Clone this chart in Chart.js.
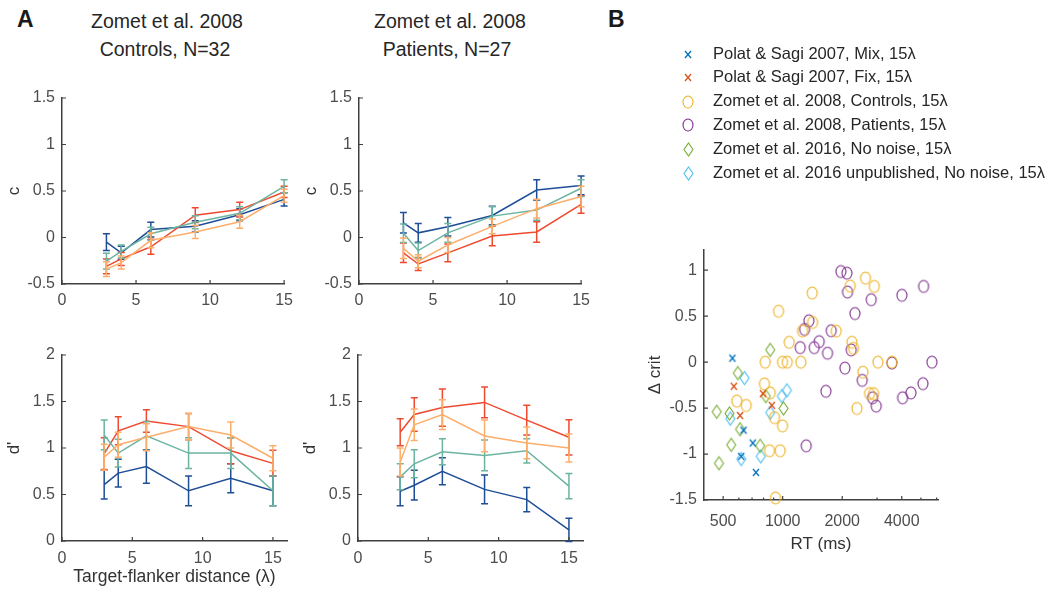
<!DOCTYPE html>
<html><head><meta charset="utf-8">
<script src="https://cdn.jsdelivr.net/npm/chart.js@4.4.0/dist/chart.umd.min.js"></script>
<style>
body{margin:0;background:#fff;width:1053px;height:589px;overflow:hidden;position:relative;font-family:"Liberation Sans",Arial,Helvetica,sans-serif;}
canvas{position:absolute;}
.t{position:absolute;color:#262626;font-size:19.5px;line-height:24px;white-space:nowrap;transform:translateX(-50%);}
.lab{position:absolute;font-weight:bold;font-size:23px;line-height:28px;color:#1a1a1a;}
</style></head><body>
<div class="lab" style="left:17px;top:5px">A</div>
<div class="lab" style="left:608px;top:5px">B</div>
<div class="t" style="left:167px;top:9px">Zomet et al. 2008</div>
<div class="t" style="left:165px;top:37px">Controls, N=32</div>
<div class="t" style="left:450px;top:9px">Zomet et al. 2008</div>
<div class="t" style="left:447px;top:37px">Patients, N=27</div>
<canvas id="tl" width="300" height="260" style="left:0;top:60px"></canvas>
<canvas id="tr" width="300" height="260" style="left:297px;top:60px"></canvas>
<canvas id="bl" width="300" height="269" style="left:0;top:320px"></canvas>
<canvas id="br" width="300" height="269" style="left:296px;top:320px"></canvas>
<canvas id="sc" width="453" height="589" style="left:600px;top:0"></canvas>
<script>
// ---------------- DATA ----------------
const distances = [3, 4, 6, 9, 12, 15];
const distanceTicks = [0, 5, 10, 15];
const cTicks = [-0.5, 0, 0.5, 1, 1.5];
const dTicks = [0, 0.5, 1, 1.5, 2];

// Controls, criterion c
const ctrlC_orange = [-0.34, -0.27, -0.03, 0.06, 0.17, 0.45];
const ctrlC_orangeErr = [0.08, 0.07, 0.08, 0.07, 0.07, 0.07];
const ctrlC_teal = [-0.255, -0.15, 0.04, 0.165, 0.26, 0.55];
const ctrlC_tealErr = [0.085, 0.07, 0.07, 0.07, 0.07, 0.07];
const ctrlC_red = [-0.31, -0.23, -0.10, 0.24, 0.30, 0.49];
const ctrlC_redErr = [0.08, 0.07, 0.08, 0.08, 0.08, 0.06];
const ctrlC_blue = [-0.05, -0.165, 0.085, 0.12, 0.245, 0.41];
const ctrlC_blueErr = [0.09, 0.07, 0.08, 0.06, 0.065, 0.07];

// Patients, criterion c
const patC_orange = [-0.115, -0.255, -0.08, 0.12, 0.31, 0.44];
const patC_orangeErr = [0.11, 0.07, 0.08, 0.08, 0.10, 0.11];
const patC_teal = [0.045, -0.14, 0.05, 0.23, 0.295, 0.53];
const patC_tealErr = [0.10, 0.08, 0.10, 0.10, 0.11, 0.09];
const patC_red = [-0.165, -0.285, -0.165, 0.015, 0.06, 0.355];
const patC_redErr = [0.105, 0.07, 0.095, 0.105, 0.11, 0.095];
const patC_blue = [0.158, 0.05, 0.115, 0.237, 0.51, 0.56];
const patC_blueErr = [0.11, 0.10, 0.10, 0.10, 0.11, 0.10];

// Controls, d'
const ctrlD_orange = [0.90, 1.035, 1.115, 1.23, 1.14, 0.89];
const ctrlD_orangeErr = [0.14, 0.135, 0.145, 0.14, 0.14, 0.135];
const ctrlD_teal = [1.14, 0.945, 1.13, 0.945, 0.945, 0.54];
const ctrlD_tealErr = [0.16, 0.15, 0.155, 0.165, 0.165, 0.16];
const ctrlD_red = [0.94, 1.185, 1.29, 1.23, 0.97, 0.835];
const ctrlD_redErr = [0.17, 0.15, 0.12, 0.14, 0.14, 0.14];
const ctrlD_blue = [0.607, 0.73, 0.80, 0.54, 0.675, 0.54];
const ctrlD_blueErr = [0.155, 0.15, 0.18, 0.16, 0.155, 0.16];

// Patients, d'
const patD_orange = [0.85, 1.25, 1.36, 1.13, 1.055, 1.0];
const patD_orangeErr = [0.15, 0.17, 0.16, 0.17, 0.17, 0.15];
const patD_teal = [0.69, 0.83, 0.96, 0.92, 0.97, 0.59];
const patD_tealErr = [0.14, 0.15, 0.14, 0.165, 0.13, 0.135];
const patD_red = [1.17, 1.36, 1.435, 1.49, 1.30, 1.115];
const patD_redErr = [0.145, 0.18, 0.20, 0.165, 0.16, 0.19];
const patD_blue = [0.535, 0.60, 0.75, 0.555, 0.445, 0.12];
const patD_blueErr = [0.155, 0.16, 0.145, 0.155, 0.13, 0.125];

// Panel B: RT (ms) vs delta criterion
const rtTicks = [500, 1000, 2000, 4000];
const rtMinorTicks = [600, 700, 800, 900, 3000, 5000, 6000];
const critTicks = [-1.5, -1, -0.5, 0, 0.5, 1];

const mixRT   = [557, 634, 617, 706, 732];
const mixCrit = [0.043, -0.74, -1.025, -0.88, -1.2];
const fixRT   = [566, 609, 794, 881];
const fixCrit = [-0.263, -0.58, -0.342, -0.47];
const ctrlRT   = [586, 654, 816, 809, 865, 909, 858, 971, 998, 920, 953, 998, 1054, 1078, 1235, 1260, 1416, 1410, 1865, 2195, 2238, 2282, 2372, 2544, 2624, 2904, 2749, 2882, 3030, 3567];
const ctrlCrit = [-0.424, -0.471, 0, -0.237, -0.335, -0.604, -0.964, -0.964, -0.694, -1.478, 0.554, 0, 0, 0.216, 0, 0.338, 0.432, 0.752, 0.338, 0.827, 0.216, 0.15, -0.504, -0.11, 0.914, 0.824, -0.342, -0.342, 0, 0];
const patRT   = [1315, 1226, 1290, 1357, 1443, 1530, 1686, 1654, 1760, 1969, 2112, 2128, 2063, 2221, 2318, 2525, 2803, 2848, 2971, 3567, 4008, 4040, 4450, 5119, 5158, 5684];
const patCrit = [-0.91, 0.158, 0.356, 0.45, 0.158, 0.223, 0.097, -0.317, 0.342, 0.986, 0.968, 0.763, -0.065, 0.133, 0.529, -0.198, 0.68, -0.388, -0.478, -0.01, 0.727, -0.388, -0.335, -0.234, 0.824, 0];
const noiseRT   = [464, 476, 538, 549, 593, 609, 769, 822, 865, 1010];
const noiseCrit = [-0.54, -1.1, -0.558, -0.9, -0.119, -0.73, -0.91, -0.37, 0.133, -0.504];
const unpubRT   = [543, 617, 641, 775, 865, 990, 1050];
const unpubCrit = [-0.615, -1.054, -0.173, -1.025, -0.55, -0.37, -0.306];

// ---------------- STYLE ----------------
const FONT = "'Liberation Sans', Arial, Helvetica, sans-serif";
Chart.defaults.font.family = FONT;
const AXIS = '#404040', TICK = '#4d4d4d', LABEL = '#333333';
const COL = {orange:'#FDAE6B', teal:'#6BB4A1', red:'#EE4A2F', blue:'#1F4E96'};

const errorBars = {
  id: 'errorBars',
  afterDatasetDraw(chart, args) {
    const ds = chart.data.datasets[args.index];
    if (!ds.errors) return;
    const xs = chart.scales.x, ys = chart.scales.y, ctx = chart.ctx;
    ctx.save();
    ctx.strokeStyle = ds.borderColor; ctx.lineWidth = 1.5;
    ctx.beginPath();
    ds.data.forEach((p, i) => {
      const e = ds.errors[i];
      const px = xs.getPixelForValue(p.x);
      const y1 = ys.getPixelForValue(p.y - e), y2 = ys.getPixelForValue(p.y + e);
      ctx.moveTo(px, y1); ctx.lineTo(px, y2);
      ctx.moveTo(px - 3.5, y1); ctx.lineTo(px + 3.5, y1);
      ctx.moveTo(px - 3.5, y2); ctx.lineTo(px + 3.5, y2);
    });
    ctx.stroke();
    ctx.restore();
  }
};

const inTicks = {
  id: 'inTicks',
  afterDraw(chart, args, opts) {
    const ctx = chart.ctx, a = chart.chartArea, xs = chart.scales.x, ys = chart.scales.y;
    ctx.save(); ctx.strokeStyle = AXIS; ctx.lineWidth = 1.2;
    ctx.beginPath();
    xs.ticks.forEach(t => { const px = xs.getPixelForValue(t.value); ctx.moveTo(px, a.bottom); ctx.lineTo(px, a.bottom - 4); });
    (opts.minorX || []).forEach(v => { const px = xs.getPixelForValue(v); ctx.moveTo(px, a.bottom); ctx.lineTo(px, a.bottom - 2.5); });
    ys.ticks.forEach(t => { const py = ys.getPixelForValue(t.value); ctx.moveTo(a.left, py); ctx.lineTo(a.left + 4, py); });
    ctx.stroke(); ctx.restore();
  }
};

function linePanel(id, series, cfg) {
  const datasets = series.map(s => ({
    label: s.label,
    data: distances.map((d, i) => ({x: d, y: s.values[i]})),
    errors: s.errors,
    borderColor: s.color, backgroundColor: s.color,
    borderWidth: 1.5, pointRadius: 0, tension: 0, clip: false
  }));
  return new Chart(document.getElementById(id), {
    type: 'line',
    data: {datasets},
    options: {
      responsive: false, animation: false, events: [],
      layout: {padding: cfg.padding},
      plugins: {legend: {display: false}, tooltip: {enabled: false}, inTicks: {}},
      scales: {
        x: {
          type: 'linear', min: 0, max: cfg.xMax,
          afterBuildTicks: s => { s.ticks = distanceTicks.map(v => ({value: v})); },
          afterFit: s => { s.height = cfg.xHeight; },
          grid: {display: false, drawTicks: false},
          border: {display: true, color: AXIS, width: 1.5},
          ticks: {padding: cfg.xPad, color: TICK, font: {size: 16}, maxRotation: 0, autoSkip: false, callback: v => String(v)},
          title: {display: !!cfg.xTitle, text: cfg.xTitle || '', color: LABEL, font: {size: 17.5}, padding: {top: 0, bottom: 1}}
        },
        y: {
          min: cfg.yMin, max: cfg.yMax,
          afterBuildTicks: s => { s.ticks = cfg.yTicks.map(v => ({value: v})); },
          afterFit: s => { s.width = 62; },
          grid: {display: false, drawTicks: false},
          border: {display: true, color: AXIS, width: 1.5},
          ticks: {padding: 7, color: TICK, font: {size: 16}, autoSkip: false, callback: v => String(v)},
          title: {display: true, text: cfg.yTitle, color: LABEL, font: {size: 17}, padding: {top: 4, bottom: 0}}
        }
      }
    },
    plugins: [errorBars, inTicks]
  });
}

function mk(o, oe, t, te, r, re, b, be) {
  return [
    {label: 'Orange series', values: o, errors: oe, color: COL.orange},
    {label: 'Teal series', values: t, errors: te, color: COL.teal},
    {label: 'Red series', values: r, errors: re, color: COL.red},
    {label: 'Blue series', values: b, errors: be, color: COL.blue}
  ];
}

linePanel('tl', mk(ctrlC_orange, ctrlC_orangeErr, ctrlC_teal, ctrlC_tealErr, ctrlC_red, ctrlC_redErr, ctrlC_blue, ctrlC_blueErr),
  {xMax: 15, yMin: -0.5, yMax: 1.5, yTicks: cTicks, yTitle: 'c', xHeight: 36, xPad: 7, padding: {left: 0, right: 14, top: 38, bottom: 0}});
linePanel('tr', mk(patC_orange, patC_orangeErr, patC_teal, patC_tealErr, patC_red, patC_redErr, patC_blue, patC_blueErr),
  {xMax: 15, yMin: -0.5, yMax: 1.5, yTicks: cTicks, yTitle: 'c', xHeight: 36, xPad: 7, padding: {left: 0, right: 14, top: 38, bottom: 0}});
linePanel('bl', mk(ctrlD_orange, ctrlD_orangeErr, ctrlD_teal, ctrlD_tealErr, ctrlD_red, ctrlD_redErr, ctrlD_blue, ctrlD_blueErr),
  {xMax: 16, yMin: 0, yMax: 2, yTicks: dTicks, yTitle: "d'", xTitle: 'Target-flanker distance (λ)', xHeight: 48, xPad: 8, padding: {left: 0, right: 13, top: 35, bottom: 0}});
linePanel('br', mk(patD_orange, patD_orangeErr, patD_teal, patD_tealErr, patD_red, patD_redErr, patD_blue, patD_blueErr),
  {xMax: 16, yMin: 0, yMax: 2, yTicks: dTicks, yTitle: "d'", xHeight: 48, xPad: 8, padding: {left: 0, right: 13, top: 35, bottom: 0}});

// ---------------- PANEL B ----------------
function makeMarker(style, color, w, h, lw) {
  const pad = 2;
  const c = document.createElement('canvas');
  c.width = Math.ceil(w + 2 * pad); c.height = Math.ceil(h + 2 * pad);
  const ctx = c.getContext('2d');
  ctx.strokeStyle = color; ctx.lineWidth = lw;
  const cx = c.width / 2, cy = c.height / 2;
  ctx.beginPath();
  if (style === 'circle') {
    ctx.ellipse(cx, cy, w / 2, h / 2, 0, 0, Math.PI * 2);
  } else if (style === 'cross') {
    ctx.moveTo(cx - w / 2, cy - h / 2); ctx.lineTo(cx + w / 2, cy + h / 2);
    ctx.moveTo(cx + w / 2, cy - h / 2); ctx.lineTo(cx - w / 2, cy + h / 2);
  } else {
    ctx.moveTo(cx, cy - h / 2); ctx.lineTo(cx + w / 2, cy); ctx.lineTo(cx, cy + h / 2); ctx.lineTo(cx - w / 2, cy); ctx.closePath();
  }
  ctx.stroke();
  return c;
}

const scatterSeries = [
  {label: 'Polat & Sagi 2007, Mix, 15λ', rt: mixRT, crit: mixCrit, color: '#0072BD', shape: 'cross', w: 6, h: 7},
  {label: 'Polat & Sagi 2007, Fix, 15λ', rt: fixRT, crit: fixCrit, color: '#D95319', shape: 'cross', w: 6, h: 7},
  {label: 'Zomet et al. 2008, Controls, 15λ', rt: ctrlRT, crit: ctrlCrit, color: '#EDB120', shape: 'circle', w: 10, h: 12},
  {label: 'Zomet et al. 2008, Patients, 15λ', rt: patRT, crit: patCrit, color: '#7E2F8E', shape: 'circle', w: 10, h: 12},
  {label: 'Zomet et al. 2016, No noise, 15λ', rt: noiseRT, crit: noiseCrit, color: '#77AC30', shape: 'diamond', w: 9, h: 13},
  {label: 'Zomet et al. 2016 unpublished, No noise, 15λ', rt: unpubRT, crit: unpubCrit, color: '#4DBEEE', shape: 'diamond', w: 9, h: 13}
];

const sideLegend = {
  id: 'sideLegend',
  afterDraw(chart, args, opts) {
    const ctx = chart.ctx;
    chart.data.datasets.forEach((ds, i) => {
      const y = opts.y0 + i * opts.dy;
      const img = ds.pointStyle;
      ctx.drawImage(img, Math.round(opts.mx - img.width / 2), Math.round(y - img.height / 2));
      ctx.save();
      ctx.fillStyle = '#262626';
      ctx.font = '16.5px ' + FONT;
      ctx.textBaseline = 'middle'; ctx.textAlign = 'left';
      ctx.fillText(ds.label, opts.tx, y);
      ctx.restore();
    });
  }
};

new Chart(document.getElementById('sc'), {
  type: 'scatter',
  data: {datasets: scatterSeries.map(s => ({
    label: s.label,
    data: s.rt.map((v, i) => ({x: v, y: s.crit[i]})),
    pointStyle: makeMarker(s.shape, s.color, s.w, s.h, s.shape === 'cross' ? 1.3 : 1.1),
    pointRadius: 5, borderColor: s.color, backgroundColor: 'rgba(0,0,0,0)', clip: false
  }))},
  options: {
    responsive: false, animation: false, events: [],
    layout: {padding: {left: 41, right: 115, top: 250, bottom: 30}},
    plugins: {legend: {display: false}, tooltip: {enabled: false},
      inTicks: {minorX: rtMinorTicks},
      sideLegend: {mx: 88, tx: 113, y0: 54, dy: 23.8}},
    scales: {
      x: {
        type: 'logarithmic', min: 400, max: 6100,
        afterBuildTicks: s => { s.ticks = rtTicks.map(v => ({value: v})); },
        afterFit: s => { s.height = 59; },
        grid: {display: false, drawTicks: false},
        border: {display: true, color: AXIS, width: 1.5},
        ticks: {padding: 12, color: TICK, font: {size: 16}, maxRotation: 0, autoSkip: false, callback: v => String(v)},
        title: {display: true, text: 'RT (ms)', color: LABEL, font: {size: 17}, padding: {top: 0, bottom: 4}}
      },
      y: {
        min: -1.5, max: 1.22,
        afterBuildTicks: s => { s.ticks = critTicks.map(v => ({value: v})); },
        afterFit: s => { s.width = 63; },
        grid: {display: false, drawTicks: false},
        border: {display: true, color: AXIS, width: 1.5},
        ticks: {padding: 7, color: TICK, font: {size: 16}, autoSkip: false, callback: v => String(v)},
        title: {display: true, text: 'Δ crit', color: LABEL, font: {size: 17}, padding: {top: 4, bottom: 0}}
      }
    }
  },
  plugins: [inTicks, sideLegend]
});
</script>
</body></html>
